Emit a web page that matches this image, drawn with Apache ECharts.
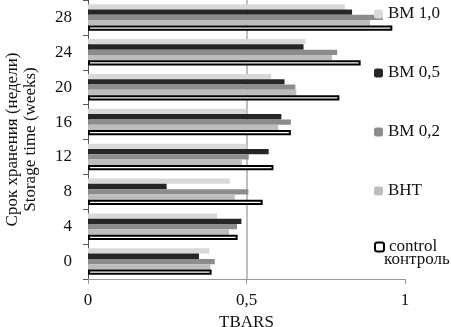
<!DOCTYPE html>
<html><head><meta charset="utf-8">
<script src="https://cdn.jsdelivr.net/npm/echarts@6/dist/echarts.min.js"></script>
<style>html,body{margin:0;padding:0;background:#fff}#c{width:451px;height:327px}</style>
</head><body><div id="c"></div>
<script>
const weeks = ['0','4','8','12','16','20','24','28'];
const control = [0.39,0.472,0.551,0.585,0.64,0.793,0.86,0.96];
const bht     = [0.386,0.445,0.463,0.485,0.60,0.657,0.77,0.89];
const bm02    = [0.40,0.47,0.506,0.507,0.64,0.654,0.786,0.93];
const bm05    = [0.35,0.484,0.248,0.57,0.61,0.62,0.68,0.833];
const bm10    = [0.383,0.407,0.447,0.50,0.50,0.578,0.686,0.81];
const xTicks = [0, 0.5, 1];

const F = 'Liberation Serif';
const chart = echarts.init(document.getElementById('c'));
function bar(name, data, color, border) {
  const s = {name, type:'bar', data, barGap:'0%', barCategoryGap:'24%',
    itemStyle:{color}, emphasis:{disabled:true}};
  if (border) { s.itemStyle.borderColor = '#000'; s.itemStyle.borderWidth = 2; }
  return s;
}
chart.setOption({
  animation:false,
  textStyle:{fontFamily:F},
  grid:{left:88, right:46, top:0, bottom:48, outerBoundsMode:'none', containLabel:false},
  xAxis:{type:'value', min:xTicks[0], max:xTicks[2], interval:0.5,
    name:'TBARS', nameLocation:'middle', nameGap:32,
    nameTextStyle:{fontFamily:F, fontSize:17, color:'#111'},
    axisLine:{show:true, lineStyle:{color:'#999', width:1}},
    axisTick:{show:true, length:5, lineStyle:{color:'#999'}},
    axisLabel:{fontFamily:F, fontSize:17, color:'#111', margin:13,
      formatter:v=>String(v).replace('.',',')},
    splitLine:{show:true, lineStyle:{color:['rgba(0,0,0,0)','#aaa','rgba(0,0,0,0)'], width:1.5}}
  },
  yAxis:{type:'category', data:weeks,
    name:'Срок хранения (недели)\nStorage time (weeks)', nameLocation:'middle', nameGap:48,
    nameTextStyle:{fontFamily:F, fontSize:17, color:'#111', lineHeight:18},
    axisLine:{show:true, lineStyle:{color:'#555', width:1}},
    axisTick:{show:true, length:5, lineStyle:{color:'#555'}},
    axisLabel:{fontFamily:F, fontSize:17, color:'#111', margin:16}
  },
  legend:[{
    orient:'vertical', left:369, top:0, itemGap:41, itemWidth:9, itemHeight:9,
    textStyle:{fontFamily:F, fontSize:17, color:'#111', lineHeight:18},
    data:['BM 1,0','BM 0,5','BM 0,2','BHT']
  },{
    orient:'vertical', left:369, top:233, itemWidth:9, itemHeight:9,
    textStyle:{fontFamily:F, fontSize:17, color:'#111', lineHeight:18},
    data:['control']
  }],
  graphic:[{type:'text', left:384, top:251, style:{text:'контроль', font:'17px "Liberation Serif"', fill:'#111'}}],
  series:[
    bar('BM 1,0', bm10, '#d9d9d9'),
    bar('BM 0,5', bm05, '#262626'),
    bar('BM 0,2', bm02, '#8c8c8c'),
    bar('BHT', bht, '#bdbdbd'),
    bar('control', control, '#fff', true)
  ]
});
</script></body></html>
